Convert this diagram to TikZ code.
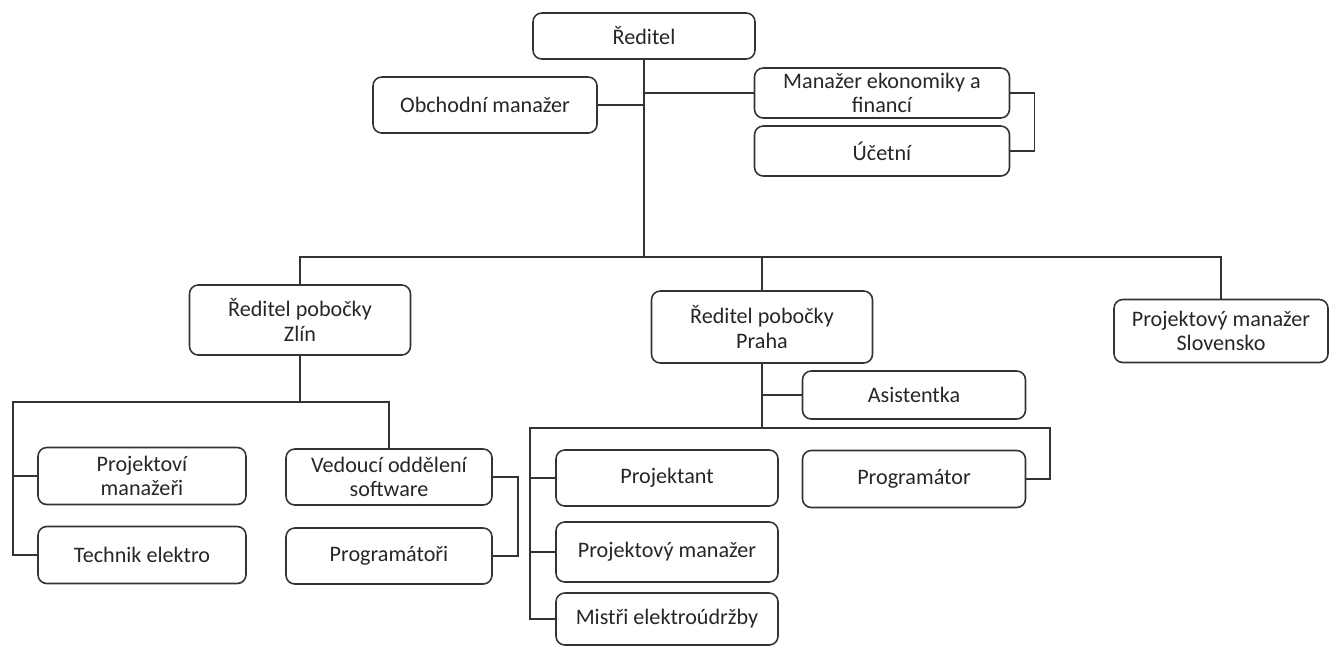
\documentclass[tikz,border=0pt]{standalone}
\usepackage{fontspec}
\setmainfont{Carlito}
\tikzset{
  unit/.style={draw=black!80, line width=0.9pt, rounded corners=5pt, align=center,
    inner sep=0pt, font=\fontsize{12.6}{13.8}\selectfont, text=black!85},
  wh/.style 2 args={minimum width=#1*0.02cm, minimum height=#2*0.02cm},
  link/.style={draw=black!80, line width=0.9pt}
}
\begin{document}
\begin{tikzpicture}[x=0.02cm, y=-0.02cm]

\useasboundingbox (0,0) rectangle (1329,647);

% vedeni
\node[unit, wh={222}{46}] (reditel) at (644,36) {Ředitel};
\node[unit, wh={224}{56}] (obchod) at (485,105) {Obchodní manažer};
\node[unit, wh={255}{50}] (ekonom) at (882,93) {Manažer ekonomiky a\\financí};
\node[unit, wh={255}{50}] (ucetni) at (882,151) {Účetní};

% pobocky
\node[unit, wh={221}{70}] (zlin) at (300,320) {Ředitel pobočky\\Zlín};
\node[unit, wh={221}{72}] (praha) at (762,327) {Ředitel pobočky\\Praha};
\node[unit, wh={214}{63}] (slovensko) at (1221,331) {Projektový manažer\\Slovensko};

% Zlin
\node[unit, wh={208}{57}] (projmanz) at (142,476) {Projektoví\\manažeři};
\node[unit, wh={208}{57}] (technik) at (142,555) {Technik elektro};
\node[unit, wh={206}{56}] (vedouci) at (389,477) {Vedoucí oddělení\\software};
\node[unit, wh={206}{56}] (programatori) at (389,556) {Programátoři};

% Praha
\node[unit, wh={223}{48}] (asist) at (914,395) {Asistentka};
\node[unit, wh={222}{56}] (projektant) at (667,478) {Projektant};
\node[unit, wh={222}{60}] (projman) at (667,552) {Projektový manažer};
\node[unit, wh={222}{52}] (mistri) at (667,619) {Mistři elektroúdržby};
\node[unit, wh={223}{57}] (programator) at (914,479) {Programátor};

\coordinate (bus) at (644,257);
\coordinate (zbus) at (300,402);
\coordinate (pbusL) at (530,428);
\coordinate (pbusR) at (1050,428);

\draw[link] (reditel.south) -- (bus);
\draw[link] (obchod.east) -- (obchod.east -| bus);
\draw[link] (ekonom.west) -- (ekonom.west -| bus);
\draw[link] (ekonom.east) -- ++(24,0) |- (ucetni.east);
\draw[link] (zlin.north) |- (slovensko.north |- bus) -- (slovensko.north);
\draw[link] (praha.north) -- (praha.north |- bus);

\draw[link] (zlin.south) -- (zbus);
\draw[link] (technik.west) -- ++(-24,0) |- (vedouci.north |- zbus) -- (vedouci.north);
\draw[link] (projmanz.west) -- ++(-24,0);
\draw[link] (vedouci.east) -- ++(25,0) |- (programatori.east);

\draw[link] (praha.south) -- (praha.south |- pbusL);
\draw[link] (asist.west) -- (asist.west -| praha.south);
\draw[link] (mistri.west) -| (pbusL) -- (pbusR) |- (programator.east);
\draw[link] (projektant.west) -- (projektant.west -| pbusL);
\draw[link] (projman.west) -- (projman.west -| pbusL);

\end{tikzpicture}
\end{document}
